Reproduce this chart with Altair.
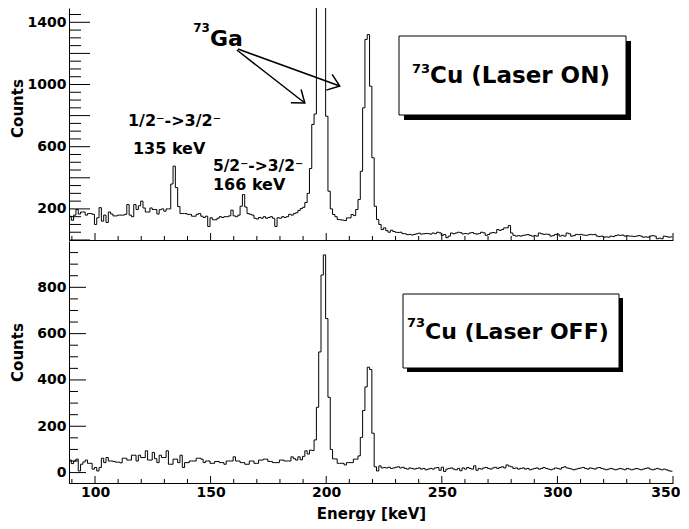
import altair as alt
import pandas as pd

# ---------------- data (1 keV bins, first bin starts at 88.75 keV) ----------------
BIN_START = 88.75
BIN_WIDTH = 1.0
X_DOMAIN = [88.75, 350]

laser_on = [
    153, 127, 160, 196, 167, 180, 180, 160, 170,        # 89-97
    170, 165, 100, 143, 208, 121, 160, 113, 180, 167,   # 98-107
    155, 155, 160, 160, 160, 165, 228, 160, 150, 228,   # 108-117
    196, 220, 250, 206, 180, 180, 206, 196, 196, 167,   # 118-127
    195, 200, 185, 200, 200, 360, 475, 337, 215, 170,   # 128-137
    170, 170, 165, 165, 153, 153, 165, 170, 153, 145,   # 138-147
    153, 87, 143, 130, 130, 140, 150, 145, 150, 150,    # 148-157
    155, 192, 155, 150, 160, 217, 292, 212, 170, 165,   # 158-167
    160, 140, 135, 145, 140, 150, 140, 145, 150, 140,   # 168-177
    87, 143, 140, 150, 145, 150, 165, 160, 170, 175,    # 178-187
    190, 202, 210, 241, 300, 460, 743, 810, 1550, 2500, # 188-197
    2750, 1900, 796, 314, 200, 164, 150, 132, 130, 128, # 198-207
    125, 142, 142, 164, 157, 196, 260, 442, 850, 1290,  # 208-217
    1321, 989, 529, 217, 132, 100, 67, 78, 60, 50,      # 218-227
    63, 55, 50, 48, 50, 41, 40, 34, 36, 32,             # 228-237
    36, 40, 44, 38, 40, 42, 41, 38, 45, 41,             # 238-247
    50, 46, 30, 35, 15, 25, 45, 40, 45, 50,             # 248-257
    47, 39, 42, 39, 45, 48, 41, 38, 41, 50,             # 258-267
    46, 30, 35, 45, 48, 45, 67, 62, 67, 78,             # 268-277
    78, 93, 45, 30, 25, 28, 25, 30, 32, 35,             # 278-287
    30, 25, 28, 25, 45, 40, 36, 38, 36, 25,             # 288-297
    28, 36, 38, 25, 30, 25, 45, 40, 25, 28,             # 298-307
    36, 34, 36, 32, 30, 32, 36, 34, 36, 25,             # 308-317
    22, 25, 18, 20, 18, 25, 22, 28, 32, 30,             # 318-327
    32, 25, 28, 25, 25, 22, 25, 28, 25, 18,             # 328-337
    20, 18, 25, 28, 25, 8, 12, 8, 25, 22,               # 338-347
    18, 20,                                             # 348-349
]

laser_off = [
    54, 39, 50, 58, 7, 36, 46, 54, 40, 40,              # 89-98
    15, 22, 7, 22, 62, 43, 65, 50, 50, 48,              # 99-108
    45, 45, 42, 62, 62, 54, 54, 75, 75, 50,             # 109-118
    75, 65, 65, 94, 54, 54, 87, 60, 43, 75,             # 119-128
    65, 65, 94, 36, 36, 58, 58, 43, 75, 22,             # 129-138
    43, 43, 50, 50, 50, 62, 62, 58, 43, 50,             # 139-148
    50, 40, 40, 48, 48, 43, 43, 36, 50, 50,             # 149-158
    50, 68, 50, 50, 43, 43, 36, 36, 50, 50,             # 159-168
    40, 40, 54, 54, 58, 58, 48, 48, 43, 43,             # 169-178
    43, 54, 54, 50, 50, 50, 68, 60, 54, 68,             # 179-188
    55, 70, 94, 80, 97, 95, 141, 282, 521, 853,         # 189-198
    940, 665, 325, 100, 59, 59, 40, 40, 40, 33,         # 199-208
    43, 43, 43, 58, 58, 72, 152, 268, 370, 455,         # 209-218
    445, 170, 25, 7, 29, 20, 22, 20, 23, 18,            # 219-228
    20, 23, 25, 20, 23, 18, 15, 20, 18, 15,             # 229-238
    18, 20, 15, 18, 12, 15, 18, 15, 20, 22,             # 239-248
    10, 23, 5, 15, 18, 20, 15, 12, 18, 8,               # 249-258
    20, 15, 22, 18, 15, 29, 10, 18, 15, 20,             # 259-268
    22, 18, 15, 20, 23, 18, 22, 25, 20, 33,             # 269-278
    28, 25, 18, 20, 15, 18, 20, 15, 18, 12,             # 279-288
    15, 18, 20, 15, 18, 22, 18, 15, 12, 15,             # 289-298
    20, 18, 15, 22, 25, 20, 18, 15, 12, 15,             # 299-308
    18, 20, 22, 18, 15, 20, 18, 15, 20, 22,             # 309-318
    18, 15, 12, 15, 18, 15, 12, 15, 18, 15,             # 319-328
    12, 18, 15, 12, 15, 18, 15, 12, 15, 18,             # 329-338
    20, 15, 12, 15, 18, 15, 12, 15, 12, 8,              # 339-348
    6,                                                  # 349
]

x_major = [100, 150, 200, 250, 300, 350]
x_minor = [90, 110, 120, 130, 140, 160, 170, 180, 190, 210, 220, 230, 240,
           260, 270, 280, 290, 310, 320, 330, 340]
top_y_major = [0, 200, 400, 600, 800, 1000, 1200, 1400]
top_y_minor = [50, 100, 150, 250, 300, 350, 450, 500, 550, 650, 700, 750, 850,
               900, 950, 1050, 1100, 1150, 1250, 1300, 1350, 1450]
top_y_labels = [200, 400, 600, 800, 1000, 1200, 1400]
bot_y_major = [0, 200, 400, 600, 800]
bot_y_minor = [50, 100, 150, 250, 300, 350, 450, 500, 550, 650, 700, 750, 850, 900, 950]
bot_x_labels = [100, 150, 200, 250, 300, 350]

# ---------------- layout constants ----------------
W = 604
H_TOP = 232
H_BOT = 242
FONT = "DejaVu Sans"

xscale = alt.Scale(domain=X_DOMAIN, nice=False, zero=False)
yscale_top = alt.Scale(domain=[0, 1492], nice=False, zero=False)
yscale_bot = alt.Scale(domain=[-45, 1000], nice=False, zero=False)

common = dict(ticks=False, grid=False, domain=True, domainColor="black",
              labelOverlap=False, labelBound=False, format="d")
ax_top_x = alt.Axis(labels=False, title=None, labelFlush=False, **common)
ax_top_y = alt.Axis(values=top_y_labels, labelPadding=3, title="Counts", labelFlush=False,
                    titleX=-52, titleY=100, titleAngle=270,
                    titleAlign="center", titleBaseline="middle", **common)
ax_bot_x = alt.Axis(values=bot_x_labels, labelPadding=2, title="Energy [keV]",
                    labelFlush=True, labelFlushOffset=7,
                    titleY=35, titleBaseline="alphabetic", **common)
ax_bot_y = alt.Axis(values=bot_y_major, labelPadding=3, title="Counts", labelFlush=False,
                    titleX=-52, titleY=111, titleAngle=270,
                    titleAlign="center", titleBaseline="middle", **common)


def hist_frame(vals):
    edges = [BIN_START + i * BIN_WIDTH for i in range(len(vals) + 1)]
    counts = list(vals) + [vals[-1]]
    return pd.DataFrame({"energy": edges, "counts": counts})


def x_ticks(vals, h, length, axis):
    return alt.Chart(pd.DataFrame({"energy": vals})).mark_rule(color="black", strokeWidth=1).encode(
        x=alt.X("energy:Q", scale=xscale, axis=axis),
        y=alt.value(h), y2=alt.value(h - length))


def y_ticks(vals, yscale, length, axis):
    return alt.Chart(pd.DataFrame({"counts": vals})).mark_rule(color="black", strokeWidth=1).encode(
        y=alt.Y("counts:Q", scale=yscale, axis=axis),
        x=alt.value(0), x2=alt.value(length))


one = pd.DataFrame({"a": [0]})


def data_text(text, x, y, size, align="left"):
    return alt.Chart(one).mark_text(
        text=text, font=FONT, fontWeight="bold", fontSize=size, align=align,
        baseline="alphabetic", color="black").encode(
        x=alt.datum(x, scale=xscale), y=alt.datum(y, scale=yscale_top))


def px_text(text, x, y, size, align="left"):
    return alt.Chart(one).mark_text(
        text=text, font=FONT, fontWeight="bold", fontSize=size, align=align,
        baseline="alphabetic", color="black").encode(
        x=alt.value(x), y=alt.value(y))


def box(x1, y1, x2, y2, off):
    shadow = alt.Chart(one).mark_rect(color="black").encode(
        x=alt.value(x1 + off), x2=alt.value(x2 + off),
        y=alt.value(y1 + off), y2=alt.value(y2 + off))
    frame = alt.Chart(one).mark_rect(fill="white", stroke="black", strokeWidth=1).encode(
        x=alt.value(x1), x2=alt.value(x2), y=alt.value(y1), y2=alt.value(y2))
    return [shadow, frame]


def arrow(x1, y1, x2, y2, angle):
    shaft = alt.Chart(one).mark_rule(color="black", strokeWidth=1.5).encode(
        x=alt.datum(x1, scale=xscale), y=alt.datum(y1, scale=yscale_top),
        x2=alt.datum(x2), y2=alt.datum(y2))
    head = alt.Chart(one).mark_point(
        shape="M -1 -0.75 L 0 0 L -1 0.75", size=500, angle=angle, filled=False,
        stroke="black", strokeWidth=1.5, opacity=1).encode(
        x=alt.datum(x2, scale=xscale), y=alt.datum(y2, scale=yscale_top))
    return [shaft, head]


# ---------------- top panel: Laser ON ----------------
top_line = alt.Chart(hist_frame(laser_on)).mark_line(
    interpolate="step-after", clip=True, color="black", strokeWidth=1).encode(
    x=alt.X("energy:Q", scale=xscale, axis=ax_top_x),
    y=alt.Y("counts:Q", scale=yscale_top, axis=ax_top_y))

top_layers = [top_line,
              x_ticks(x_major, H_TOP, 7, ax_top_x), x_ticks(x_minor, H_TOP, 4, ax_top_x),
              y_ticks(top_y_major, yscale_top, 21, ax_top_y),
              y_ticks(top_y_minor, yscale_top, 12, ax_top_y)]
top_layers += [
    data_text("1/2⁻->3/2⁻", 114.25, 733, 16),
    data_text("135 keV", 116.4, 553, 16),
    data_text("5/2⁻->3/2⁻", 151.0, 445, 15.5),
    data_text("166 keV", 151.0, 322, 16),
    data_text("Ga", 149.7, 1248, 22),
    data_text("73", 149.7, 1338, 12, align="right"),
]
top_layers += arrow(161.35, 1222, 190.74, 881, 37.9)
top_layers += arrow(161.8, 1228, 205.86, 990, 19.9)
top_layers += box(330, 28, 557, 107, 5)
top_layers += [px_text("Cu (Laser ON)", 361, 75, 23),
               px_text("73", 361, 65, 13, align="right")]

top = alt.layer(*top_layers).properties(width=W, height=H_TOP)

# ---------------- bottom panel: Laser OFF ----------------
bot_line = alt.Chart(hist_frame(laser_off)).mark_line(
    interpolate="step-after", clip=True, color="black", strokeWidth=1).encode(
    x=alt.X("energy:Q", scale=xscale, axis=ax_bot_x),
    y=alt.Y("counts:Q", scale=yscale_bot, axis=ax_bot_y))

bot_layers = [bot_line,
              x_ticks(x_major, H_BOT, 7, ax_bot_x), x_ticks(x_minor, H_BOT, 4, ax_bot_x),
              y_ticks(bot_y_major, yscale_bot, 17, ax_bot_y),
              y_ticks(bot_y_minor, yscale_bot, 9, ax_bot_y)]
bot_layers += box(334, 53, 550, 127, 4)
bot_layers += [px_text("Cu (Laser OFF)", 356, 98, 22),
               px_text("73", 356, 86, 13, align="right")]

bottom = alt.layer(*bot_layers).properties(width=W, height=H_BOT)

chart = alt.vconcat(top, bottom, spacing=0).properties(
    padding={"left": 2, "top": 0, "right": 0, "bottom": 0}
).configure_view(stroke=None).configure_axis(
    labelFont=FONT, labelFontWeight="bold", labelFontSize=14, labelColor="black",
    titleFont=FONT, titleFontWeight="bold", titleFontSize=15, titleColor="black",
    domainWidth=1,
)

chart.save("out.html", embed_options={"renderer": "svg", "actions": False})
